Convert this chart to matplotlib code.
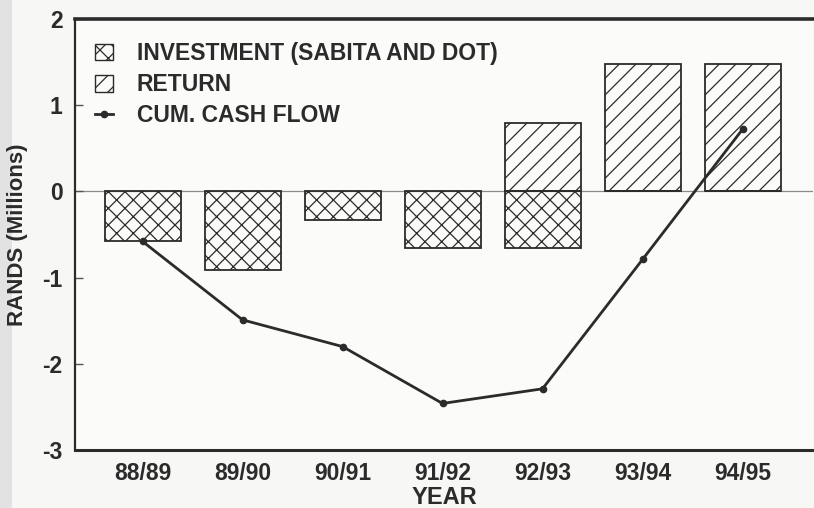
import matplotlib
matplotlib.use("Agg")
import matplotlib.pyplot as plt
from matplotlib.patches import Patch, Rectangle
from matplotlib.lines import Line2D
import numpy as np

years = ["88/89", "89/90", "90/91", "91/92", "92/93", "93/94", "94/95"]
investment = [-0.58, -0.91, -0.33, -0.66, -0.66, 0.0, 0.0]
returns = [0.0, 0.0, 0.0, 0.0, 0.79, 1.48, 1.48]
cum_cash_flow = [-0.58, -1.49, -1.80, -2.46, -2.29, -0.79, 0.72]

INK = "#2b2b2b"
plt.rcParams["font.family"] = ["Liberation Sans", "DejaVu Sans"]
plt.rcParams["font.weight"] = "bold"
plt.rcParams["hatch.linewidth"] = 0.9
plt.rcParams["hatch.color"] = INK

W, H = 814, 508
fig = plt.figure(figsize=(W / 100, H / 100), dpi=100, facecolor="#f7f7f5")
fig.patches.append(Rectangle((0, 0), 12 / W, 1, transform=fig.transFigure,
                             facecolor="#e2e2e2", edgecolor="none", zorder=-5))

ax = fig.add_axes([75 / W, 1 - 450 / H, (813 - 75) / W, (450 - 19) / H])
ax.set_facecolor("#fbfbfa")

x = np.arange(len(years))
ax.axhline(0, color="#8a8a8a", lw=0.9, zorder=1)
ax.bar(x, investment, width=0.76, facecolor="none", edgecolor=INK,
       hatch="xx", linewidth=1.3, zorder=2)
ret_x = [xi for xi, r in zip(x, returns) if r != 0]
ret_v = [r for r in returns if r != 0]
ax.bar(ret_x, ret_v, width=0.76, facecolor="none", edgecolor=INK,
       hatch="//", linewidth=1.3, zorder=2)
ax.plot(x, cum_cash_flow, color=INK, lw=2.0, marker="o", markersize=4.5,
        zorder=3)

ax.set_xlim(-0.675, 6.705)
ax.set_ylim(-3, 2)
ax.set_yticks([-3, -2, -1, 0, 1, 2])
ax.set_yticklabels(["-3", "-2", "-1", "0", "1", "2"])
ax.set_xticks(x)
ax.set_xticklabels(years)
ax.tick_params(axis="y", direction="in", length=6, width=1, color="#555555",
               pad=9, labelsize=16.5, labelcolor=INK)
ax.tick_params(axis="x", length=0, pad=9, labelsize=16.5, labelcolor=INK)
for lab in ax.get_xticklabels() + ax.get_yticklabels():
    lab.set_fontweight("bold")

ax.spines["left"].set_linewidth(1.6)
ax.spines["bottom"].set_linewidth(2.2)
ax.spines["top"].set_linewidth(2.6)
ax.spines["right"].set_visible(False)
for s in ["left", "bottom", "top"]:
    ax.spines[s].set_color(INK)

ax.set_ylabel("RANDS (Millions)", fontsize=16, fontweight="bold", color=INK)
ax.yaxis.set_label_coords(-0.0635, 0.5)
ax.set_xlabel("YEAR", fontsize=17, fontweight="bold", color=INK)
ax.xaxis.set_label_coords(0.5, -0.0835)

handles = [
    Patch(facecolor="none", edgecolor=INK, hatch="xx", linewidth=1.0),
    Patch(facecolor="none", edgecolor=INK, hatch="//", linewidth=1.0),
    Line2D([], [], color=INK, lw=2.0, marker="o", markersize=4.5),
]
labels = ["INVESTMENT (SABITA AND DOT)", "RETURN", "CUM. CASH FLOW"]
leg = ax.legend(handles, labels, loc="upper left",
                bbox_to_anchor=(95 / W, 1 - 42 / H),
                bbox_transform=fig.transFigure, frameon=False,
                prop={"size": 16.5, "weight": "bold"},
                handlelength=0.78, handleheight=0.75, handletextpad=1.05,
                labelspacing=0.36, borderaxespad=0, borderpad=0)
for t in leg.get_texts():
    t.set_color(INK)

fig.savefig("out.png", dpi=100, facecolor=fig.get_facecolor())
